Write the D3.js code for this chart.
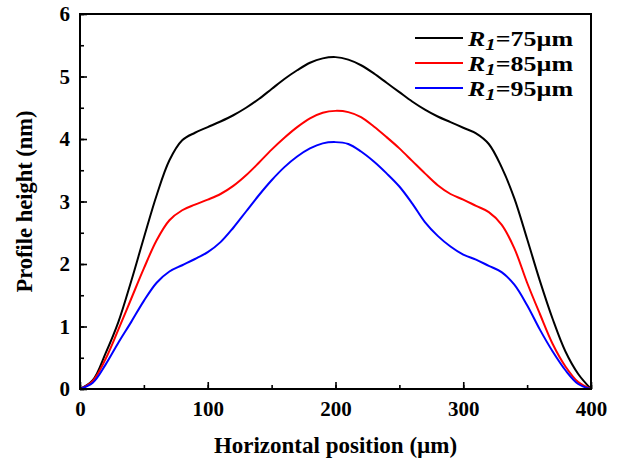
<!DOCTYPE html>
<html>
<head>
<meta charset="utf-8">
<script src="https://cdn.jsdelivr.net/npm/d3@7/dist/d3.min.js"></script>
<style>
  html, body { margin: 0; padding: 0; background: #fff; }
  svg { display: block; }
  text { font-family: "Liberation Serif", "Times New Roman", serif; font-weight: bold; }
</style>
</head>
<body>
<svg id="chart" width="619" height="461"></svg>
<script>
// ---- data ----
const xPositions = [0, 10, 20, 30, 40, 50, 60, 70, 80, 90, 100, 110, 120, 130, 140, 150, 160, 170, 180, 190, 200,
                    210, 220, 230, 240, 250, 260, 270, 280, 290, 300, 310, 320, 330, 340, 350, 360, 370, 380, 390, 400];
const heightR75 = [0, 0.14, 0.57, 1.07, 1.72, 2.42, 3.10, 3.66, 3.98, 4.10, 4.19, 4.28, 4.38, 4.50, 4.64, 4.80, 4.96, 5.10, 5.22, 5.29, 5.31,
                   5.27, 5.18, 5.05, 4.90, 4.75, 4.60, 4.47, 4.36, 4.27, 4.18, 4.09, 3.92, 3.55, 3.05, 2.40, 1.73, 1.12, 0.60, 0.24, 0];
const heightR85 = [0, 0.13, 0.48, 0.95, 1.44, 1.93, 2.38, 2.70, 2.86, 2.95, 3.03, 3.12, 3.25, 3.42, 3.62, 3.83, 4.02, 4.19, 4.33, 4.42, 4.45,
                   4.43, 4.35, 4.20, 4.03, 3.85, 3.65, 3.45, 3.26, 3.12, 3.03, 2.93, 2.83, 2.63, 2.25, 1.70, 1.20, 0.72, 0.36, 0.11, 0];
const heightR95 = [0, 0.10, 0.39, 0.74, 1.07, 1.41, 1.70, 1.88, 1.98, 2.08, 2.19, 2.35, 2.58, 2.84, 3.10, 3.34, 3.55, 3.72, 3.85, 3.93, 3.95,
                   3.92, 3.80, 3.64, 3.45, 3.24, 2.97, 2.67, 2.45, 2.28, 2.15, 2.07, 1.97, 1.87, 1.67, 1.34, 0.95, 0.60, 0.30, 0.08, 0];
const seriesNames = ["75µm", "85µm", "95µm"];
const seriesColors = ["#000000", "#ff0000", "#0000ff"];
const xTicks = [0, 100, 200, 300, 400];
const yTicks = [0, 1, 2, 3, 4, 5, 6];
const xTitle = "Horizontal position (µm)";
const yTitle = "Profile height (nm)";

// ---- layout ----
const svg = d3.select("#chart");
const mLeft = 80, mRight = 591, mTop = 14, mBottom = 389;
const x = d3.scaleLinear().domain([0, 400]).range([mLeft, mRight]);
const y = d3.scaleLinear().domain([0, 6]).range([mBottom, mTop]);

// curves
const allSeries = [heightR75, heightR85, heightR95];
const line = d3.line()
  .x((d, i) => x(xPositions[i]))
  .y(d => y(d))
  .curve(d3.curveCatmullRom.alpha(0.5));
svg.append("g").selectAll("path").data(allSeries).join("path")
  .attr("d", d => line(d))
  .attr("fill", "none")
  .attr("stroke", (d, i) => seriesColors[i])
  .attr("stroke-width", 2);

// minor ticks
const xAxisMinor = d3.axisBottom(x).tickValues(d3.range(0, 401, 50)).tickSize(-4).tickFormat("");
const yAxisMinor = d3.axisLeft(y).tickValues(d3.range(0, 6.01, 0.5)).tickSize(-4).tickFormat("");
svg.append("g").attr("transform", `translate(0,${mBottom})`).call(xAxisMinor)
  .call(g => g.select(".domain").remove())
  .selectAll("line").attr("stroke", "#000").attr("stroke-width", 1.6);
svg.append("g").attr("transform", `translate(${mLeft},0)`).call(yAxisMinor)
  .call(g => g.select(".domain").remove())
  .selectAll("line").attr("stroke", "#000").attr("stroke-width", 1.6);

// major ticks
const xAxis = d3.axisBottom(x).tickValues(xTicks).tickSize(-7).tickPadding(12).tickFormat(d3.format("d"));
const yAxis = d3.axisLeft(y).tickValues(yTicks).tickSize(-7).tickPadding(10).tickFormat(d3.format("d"));
const gx = svg.append("g").attr("transform", `translate(0,${mBottom})`).call(xAxis);
gx.select(".domain").remove();
gx.selectAll("line").attr("stroke", "#000").attr("stroke-width", 1.6);
gx.selectAll("text").attr("font-size", 21).attr("font-family", "Liberation Serif").attr("font-weight", "bold").attr("fill", "#000");
const gy = svg.append("g").attr("transform", `translate(${mLeft},0)`).call(yAxis);
gy.select(".domain").remove();
gy.selectAll("line").attr("stroke", "#000").attr("stroke-width", 1.6);
gy.selectAll("text").attr("font-size", 21).attr("font-family", "Liberation Serif").attr("font-weight", "bold").attr("fill", "#000");

// frame
svg.append("rect")
  .attr("x", mLeft).attr("y", mTop)
  .attr("width", mRight - mLeft).attr("height", mBottom - mTop)
  .attr("fill", "none").attr("stroke", "#000").attr("stroke-width", 2);

// axis titles
svg.append("text")
  .attr("x", (mLeft + mRight) / 2).attr("y", 453)
  .attr("text-anchor", "middle").attr("font-size", 23)
  .text(xTitle);
svg.append("text")
  .attr("transform", `translate(32,${(mTop + mBottom) / 2}) rotate(-90)`)
  .attr("text-anchor", "middle").attr("font-size", 22.5)
  .text(yTitle);

// legend
const legend = svg.append("g");
seriesNames.forEach((name, i) => {
  const ly = 38 + i * 25;
  legend.append("line")
    .attr("x1", 415).attr("x2", 463).attr("y1", ly).attr("y2", ly)
    .attr("stroke", seriesColors[i]).attr("stroke-width", 2);
  const t = legend.append("text")
    .attr("x", 468).attr("y", ly + 8).attr("font-size", 21)
    .attr("textLength", 105).attr("lengthAdjust", "spacingAndGlyphs");
  t.append("tspan").attr("font-style", "italic").text("R");
  t.append("tspan").attr("font-style", "italic").attr("font-size", 17).attr("dy", 4).text("1");
  t.append("tspan").attr("dy", -4).text("=" + name);
});
</script>
</body>
</html>
